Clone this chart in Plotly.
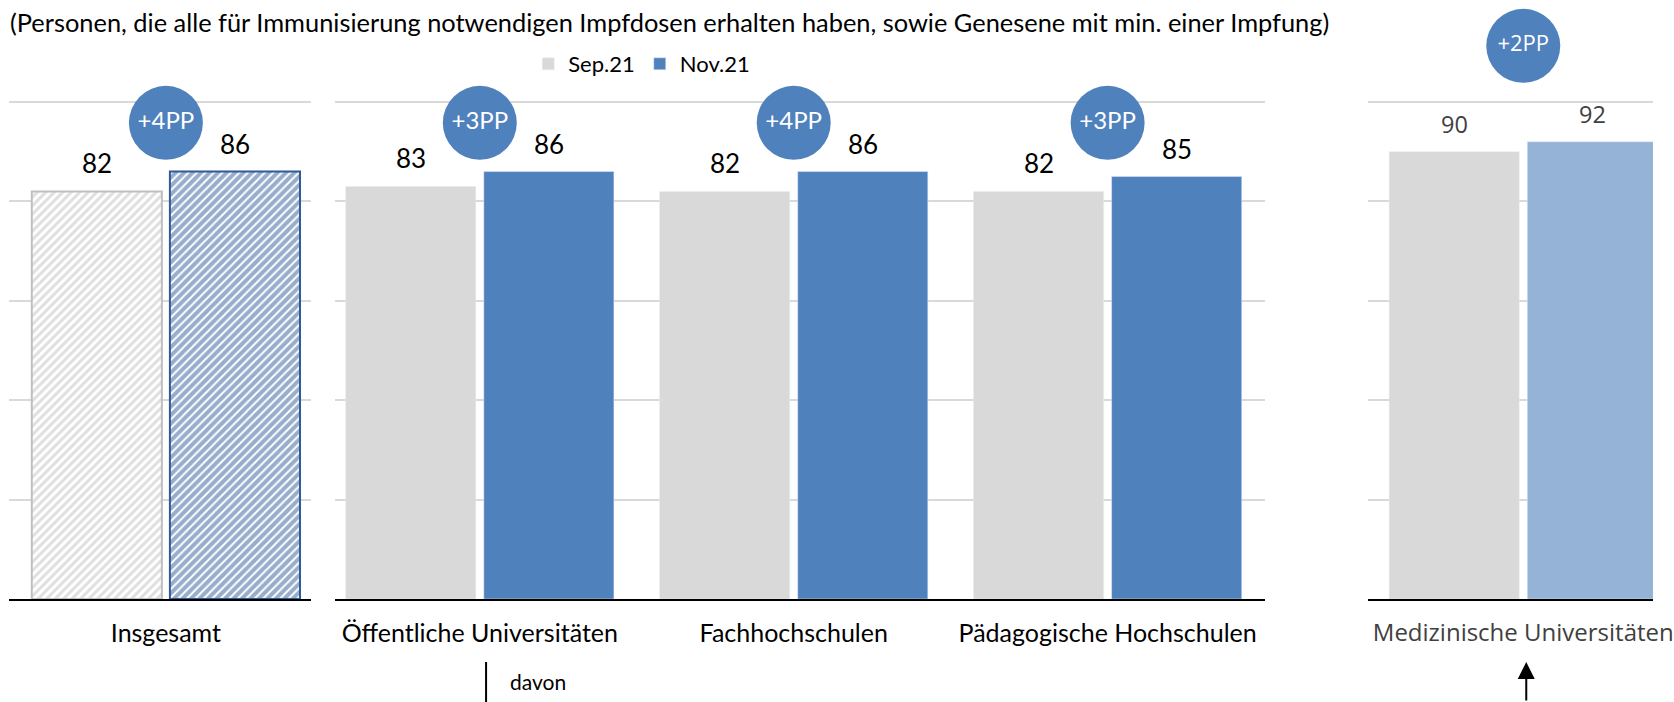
import plotly.graph_objects as go

# Daten (Anteil in %)
cat_total = ['Insgesamt']
cat_types = ['Öffentliche Universitäten', 'Fachhochschulen', 'Pädagogische Hochschulen']
cat_med = ['Medizinische Universitäten']

sep_total = [82]
nov_total = [86]
sep_types = [83, 82, 82]
nov_types = [86, 86, 85]
sep_med = [90]
nov_med = [92]

series = ['Sep.21', 'Nov.21']
subtitle = ('(Personen, die alle für Immunisierung notwendigen Impfdosen erhalten haben, '
            'sowie Genesene mit min. einer Impfung)')

W, H = 1674, 702
PLOT_H = 599
K = 1.006  # horizontal correction for the rendered page
GREY = '#D9D9D9'
BLUE = '#4F81BD'
LIGHTBLUE = '#95B3D7'
FONT = 'Lato, Carlito, sans-serif'
FONT_MED = 'Open Sans, sans-serif'
BUBBLE_Y = 95.8
BUBBLE_Y_MED = 111.3


def pp(a, b):
    return [f'+{n - s}PP' for s, n in zip(a, b)]


def py(px):
    # pixel row -> paper y
    return 1 - px / PLOT_H


def px_(x):
    # pixel column -> paper x
    return min(1.0, x * K / W)


fig = go.Figure()

# Insgesamt - schraffiert
fig.add_trace(go.Bar(x=cat_total, y=sep_total, name=series[0], showlegend=False,
                     marker=dict(color='white', line=dict(color='#BFBFBF', width=2),
                                 pattern=dict(shape='/', fgcolor='#BFBFBF', size=6, solidity=0.5)),
                     xaxis='x', yaxis='y'))
fig.add_trace(go.Bar(x=cat_total, y=nov_total, name=series[1], showlegend=False,
                     marker=dict(color='white', line=dict(color='#2F5B97', width=2),
                                 pattern=dict(shape='/', fgcolor='#2F5B97', size=6, solidity=0.68)),
                     xaxis='x', yaxis='y'))

# davon
fig.add_trace(go.Bar(x=cat_types, y=sep_types, name=series[0], marker_color=GREY,
                     xaxis='x2', yaxis='y2'))
fig.add_trace(go.Bar(x=cat_types, y=nov_types, name=series[1], marker_color=BLUE,
                     xaxis='x2', yaxis='y2'))

# Medizinische Universitäten
fig.add_trace(go.Bar(x=cat_med, y=sep_med, name=series[0], marker_color=GREY, showlegend=False,
                     xaxis='x3', yaxis='y3'))
fig.add_trace(go.Bar(x=cat_med, y=nov_med, name=series[1], marker_color=LIGHTBLUE, showlegend=False,
                     xaxis='x3', yaxis='y3'))

# Kreise mit Differenz
for cats, s, n, xa, ya, yb, fnt in [(cat_total, sep_total, nov_total, 'x', 'y', BUBBLE_Y, FONT),
                                    (cat_types, sep_types, nov_types, 'x2', 'y2', BUBBLE_Y, FONT),
                                    (cat_med, sep_med, nov_med, 'x3', 'y3', BUBBLE_Y_MED, FONT_MED)]:
    fig.add_trace(go.Scatter(x=cats, y=[yb] * len(cats), mode='markers+text', text=pp(s, n),
                             textposition='middle center',
                             textfont=dict(family=fnt, size=24 if fnt == FONT else 22, color='white'),
                             marker=dict(size=74, color=BLUE, line=dict(width=0)),
                             showlegend=False, cliponaxis=False,
                             hoverinfo='skip', xaxis=xa, yaxis=ya))

# Wertbeschriftungen
annotations = []
for cats, s, n, xa, col, fnt in [(cat_total, sep_total, nov_total, 'x', '#000000', FONT),
                                 (cat_types, sep_types, nov_types, 'x2', '#000000', FONT),
                                 (cat_med, sep_med, nov_med, 'x3', '#404040', FONT_MED)]:
    for c, vs, vn in zip(cats, s, n):
        for v, dx in [(vs, -69), (vn, 69)]:
            annotations.append(dict(x=c, y=v, xref=xa, yref='y', text=str(v), showarrow=False,
                                    xshift=dx, yshift=28, yanchor='middle',
                                    font=dict(family=fnt, size=26 if fnt == FONT else 23.5, color=col)))

annotations.append(dict(x=px_(8.5), y=py(22), xref='paper', yref='paper', text=subtitle,
                        showarrow=False, xanchor='left', yanchor='middle',
                        font=dict(family=FONT, size=25.4, color='#000000')))
annotations.append(dict(x=cat_types[0], xref='x2', xshift=28, y=py(682), yref='paper', text='davon',
                        showarrow=False, xanchor='left', yanchor='middle',
                        font=dict(family=FONT, size=21, color='#000000')))
annotations.append(dict(x=cat_med[0], xref='x3', xshift=3, y=py(662), yref='paper', text='',
                        showarrow=True, ax=0, ay=42, arrowhead=2, arrowsize=1.7, arrowwidth=2,
                        arrowcolor='#000000'))

shapes = [dict(type='line', xref='x2', x0=0.02, x1=0.02, yref='paper', y0=py(662), y1=py(706),
               line=dict(color='#000000', width=2))]

xcommon = dict(showline=True, linecolor='#000000', linewidth=2, showgrid=False, zeroline=False,
               ticks='', ticklabelstandoff=11, fixedrange=True)
ycommon = dict(range=[0, PLOT_H / 4.97], tickvals=[20, 40, 60, 80, 100], showticklabels=False,
               showgrid=True, gridcolor=GREY, gridwidth=2, zeroline=False, showline=False,
               fixedrange=True)

# rechtes Panel: Domain endet am Seitenrand
med_left = -0.495
med_right = med_left + (W - 1377 * K) / (316 * K)

fig.update_layout(
    width=W, height=H,
    margin=dict(l=0, r=0, t=0, b=H - PLOT_H),
    plot_bgcolor='white', paper_bgcolor='white',
    barmode='group', bargap=0.12, bargroupgap=0.058,
    xaxis=dict(domain=[px_(9), px_(313)], range=[-0.5, 0.462],
               tickfont=dict(family=FONT, size=25, color='#000000'), **xcommon),
    xaxis2=dict(domain=[px_(337), px_(1273)], range=[-0.462, 2.5],
                tickfont=dict(family=FONT, size=25, color='#000000'), **xcommon),
    xaxis3=dict(domain=[px_(1377), 1.0], range=[med_left, med_right],
                tickfont=dict(family=FONT_MED, size=24, color='#404040'), **xcommon),
    yaxis=dict(anchor='x', **ycommon),
    yaxis2=dict(anchor='x2', matches='y', **ycommon),
    yaxis3=dict(anchor='x3', matches='y', **ycommon),
    legend=dict(orientation='h', x=px_(646), xanchor='center', y=py(64), yanchor='middle',
                font=dict(family=FONT, size=22, color='#000000'), bgcolor='rgba(0,0,0,0)'),
    annotations=annotations,
    shapes=shapes,
)

fig.write_html('out.html', config={'displayModeBar': False},
               post_script="document.body.style.margin = '0'; document.body.style.overflow = 'hidden';")
